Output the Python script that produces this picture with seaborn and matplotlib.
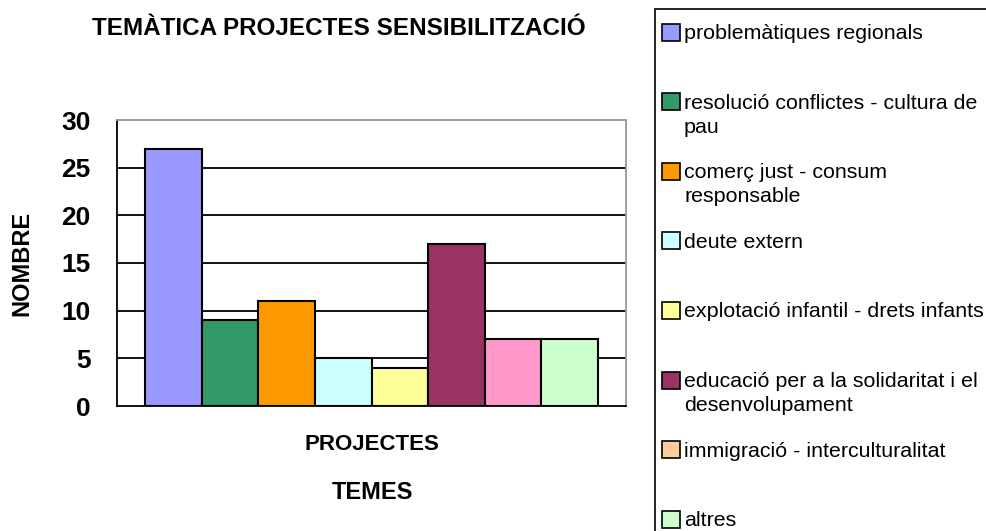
import matplotlib
matplotlib.use("Agg")
import matplotlib.pyplot as plt
import seaborn as sns
import pandas as pd
from matplotlib.patches import Rectangle

# data
temes = ["problemàtiques regionals",
         "resolució conflictes - cultura de\npau",
         "comerç just - consum\nresponsable",
         "deute extern",
         "explotació infantil - drets infants",
         "educació per a la solidaritat i el\ndesenvolupament",
         "immigració - interculturalitat",
         "altres"]
nombre = [27, 9, 11, 5, 4, 17, 7, 7]
bar_colors = ["#9999FF", "#339966", "#FF9900", "#CCFFFF",
              "#FFFF99", "#993366", "#FF99CC", "#CCFFCC"]
legend_colors = ["#9999FF", "#339966", "#FF9900", "#CCFFFF",
                 "#FFFF99", "#993366", "#FFCC99", "#CCFFCC"]
yticks = [0, 5, 10, 15, 20, 25, 30]

df = pd.DataFrame({"tema": temes, "nombre": nombre})

sns.set_style("white")
plt.rcParams["font.family"] = ["Liberation Sans", "DejaVu Sans"]
plt.rcParams["text.color"] = "black"
plt.rcParams["axes.labelcolor"] = "black"
plt.rcParams["xtick.color"] = "black"
plt.rcParams["ytick.color"] = "black"

W, H = 986, 531
fig = plt.figure(figsize=(W / 100, H / 100), dpi=100)
ax = fig.add_axes([117 / W, 1 - 406 / H, (626 - 117) / W, (406 - 120) / H])

sns.barplot(data=df, x="tema", y="nombre", hue="tema", palette=bar_colors,
            saturation=1, width=1.0, edgecolor="black", linewidth=1.5,
            legend=False, ax=ax, zorder=3)

ax.set_ylim(0, 30)
ax.set_xlim(-1, 8)
ax.set_yticks(yticks)
ax.set_yticklabels([str(v) for v in yticks], fontsize=19, fontweight="bold")
ax.tick_params(axis="y", direction="out", length=7, width=1.2, pad=12, color="black")
for v in yticks[1:-1]:
    ax.axhline(v, color="black", lw=1.3, zorder=1)

# category axis: ticks at the edges, one label in the middle
ax.set_xticks([-1, 8])
ax.set_xticklabels(["", ""])
ax.tick_params(axis="x", direction="out", length=7, width=1.2, color="black")
ax.set_xlabel("")
ax.set_ylabel("NOMBRE", fontsize=17, fontweight="bold")
ax.yaxis.set_label_coords(-0.165, 0.5)

for side in ["left", "bottom"]:
    ax.spines[side].set_color("black")
    ax.spines[side].set_linewidth(1.3)
for side in ["top", "right"]:
    ax.spines[side].set_color("#999999")
    ax.spines[side].set_linewidth(1.3)

fig.text(372 / W, 1 - 450 / H, "PROJECTES", ha="center", va="baseline",
         fontsize=16, fontweight="bold")
fig.text(372 / W, 1 - 499 / H, "TEMES", ha="center", va="baseline",
         fontsize=17, fontweight="bold")
fig.text(339 / W, 1 - 35 / H, "TEMÀTICA PROJECTES SENSIBILITZACIÓ",
         ha="center", va="baseline", fontsize=17.5, fontweight="bold")

# legend box
fig.patches.append(Rectangle((655 / W, -0.05), 0.5, 1.05 - 9 / H,
                             transform=fig.transFigure, fill=False,
                             edgecolor="black", lw=1.2, clip_on=False))
for i, (lab, col) in enumerate(zip(temes, legend_colors)):
    cy = 32 + i * 69.6
    fig.patches.append(Rectangle((662 / W, 1 - (cy + 8.5) / H), 18 / W, 17 / H,
                                 transform=fig.transFigure, facecolor=col,
                                 edgecolor="black", lw=1.2))
    fig.text(684 / W, 1 - (cy - 8) / H, lab, ha="left", va="top",
             fontsize=15.4, linespacing=1.33)

plt.savefig("out.png", dpi=100)
